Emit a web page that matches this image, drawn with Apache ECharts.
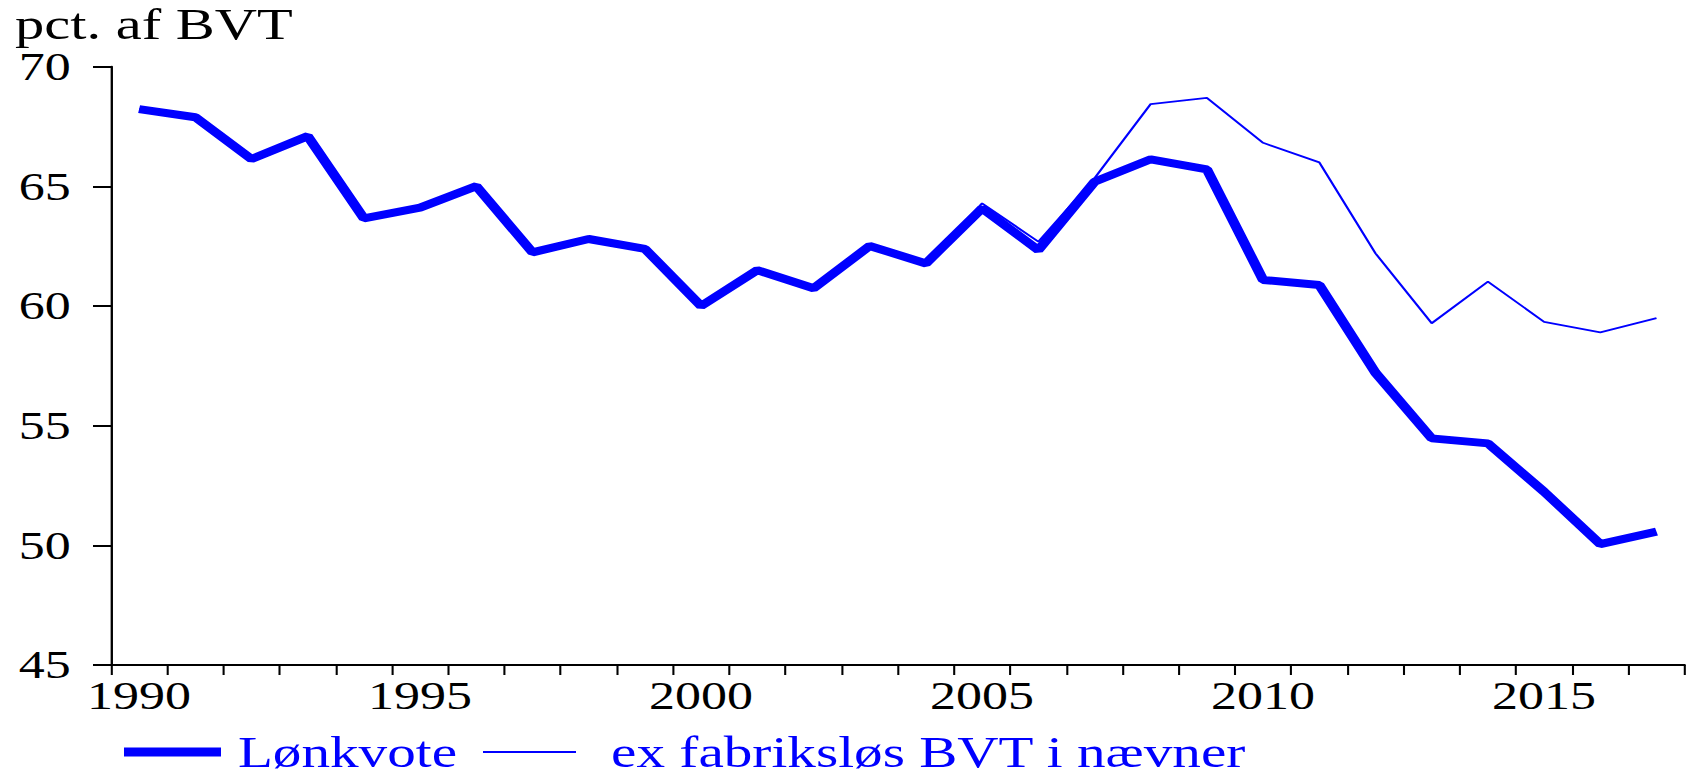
<!DOCTYPE html>
<html>
<head>
<meta charset="utf-8">
<script src="https://cdn.jsdelivr.net/npm/echarts@6/dist/echarts.min.js"></script>
<style>
html,body{margin:0;padding:0;background:#fff;overflow:hidden;}
#chart{width:1303.08px;height:775px;transform:scaleX(1.3);transform-origin:0 0;}
</style>
</head>
<body>
<div id="chart"></div>
<script>
// Data
const years = ['1990','1991','1992','1993','1994','1995','1996','1997','1998','1999',
  '2000','2001','2002','2003','2004','2005','2006','2007','2008','2009',
  '2010','2011','2012','2013','2014','2015','2016','2017'];
const loenkvote = [68.23,67.89,66.14,67.10,63.66,64.11,65.01,62.24,62.80,62.39,
  60.00,61.50,60.74,62.51,61.78,64.08,62.34,65.19,66.13,65.71,
  61.09,60.88,57.21,54.47,54.26,52.24,50.05,50.57];
const exFabrikslos = [68.23,67.89,66.14,67.10,63.66,64.11,65.01,62.24,62.80,62.39,
  60.00,61.50,60.74,62.51,61.78,64.29,62.69,65.34,68.44,68.70,
  66.82,66.00,62.20,59.28,61.02,59.34,58.90,59.49];
const yTicks = {min:45, max:70, interval:5};
const seriesNames = ['Lønkvote','ex fabriksløs BVT i nævner'];
const titleText = 'pct. af BVT';

const S = 1.3; // horizontal stretch of the picture
const font = 'Liberation Serif';
const blue = '#0000ff';

const chart = echarts.init(document.getElementById('chart'), null, {renderer:'svg'});
chart.setOption({
  animation:false,
  backgroundColor:'#fff',
  title:{
    text:titleText, left:15/S, top:1, padding:0,
    textStyle:{fontFamily:font, fontSize:45, fontWeight:'normal', color:'#000'}
  },
  legend:[
    {data:[{name:seriesNames[0], icon:'rect'}], left:124/S, top:730, padding:0,
     itemWidth:97/S, itemHeight:9, selectedMode:false, itemStyle:{borderWidth:0},
     textStyle:{fontFamily:font, fontSize:44, color:blue, padding:[0,0,0,8]}},
    {data:[{name:seriesNames[1], icon:'rect'}], left:483/S, top:730, padding:0,
     itemWidth:93/S, itemHeight:2, selectedMode:false, itemStyle:{borderWidth:0},
     textStyle:{fontFamily:font, fontSize:44, color:blue, padding:[0,0,0,22]}}
  ],
  grid:{left:111/S, top:66.7, width:1573.6/S, height:598.3, containLabel:false},
  xAxis:{
    type:'category', data:years, boundaryGap:true,
    axisLine:{lineStyle:{color:'#000', width:2}},
    axisTick:{show:true, interval:0, length:10, lineStyle:{color:'#000', width:1.6}},
    axisLabel:{interval:4, fontFamily:font, fontSize:40, color:'#000', margin:11},
    splitLine:{show:false}
  },
  yAxis:{
    type:'value', min:yTicks.min, max:yTicks.max, interval:yTicks.interval,
    axisLine:{show:true, lineStyle:{color:'#000', width:1.8}},
    axisTick:{show:true, length:18/S, lineStyle:{color:'#000', width:2}},
    axisLabel:{fontFamily:font, fontSize:40, color:'#000', margin:31},
    splitLine:{show:false}
  },
  series:[
    {name:seriesNames[0], type:'line', data:loenkvote, symbol:'none',
     color:blue, lineStyle:{color:blue, width:8}, itemStyle:{color:blue}, z:2},
    {name:seriesNames[1], type:'line', data:exFabrikslos, symbol:'none',
     color:blue, lineStyle:{color:blue, width:1.8}, itemStyle:{color:blue}, z:3}
  ]
});
</script>
</body>
</html>
